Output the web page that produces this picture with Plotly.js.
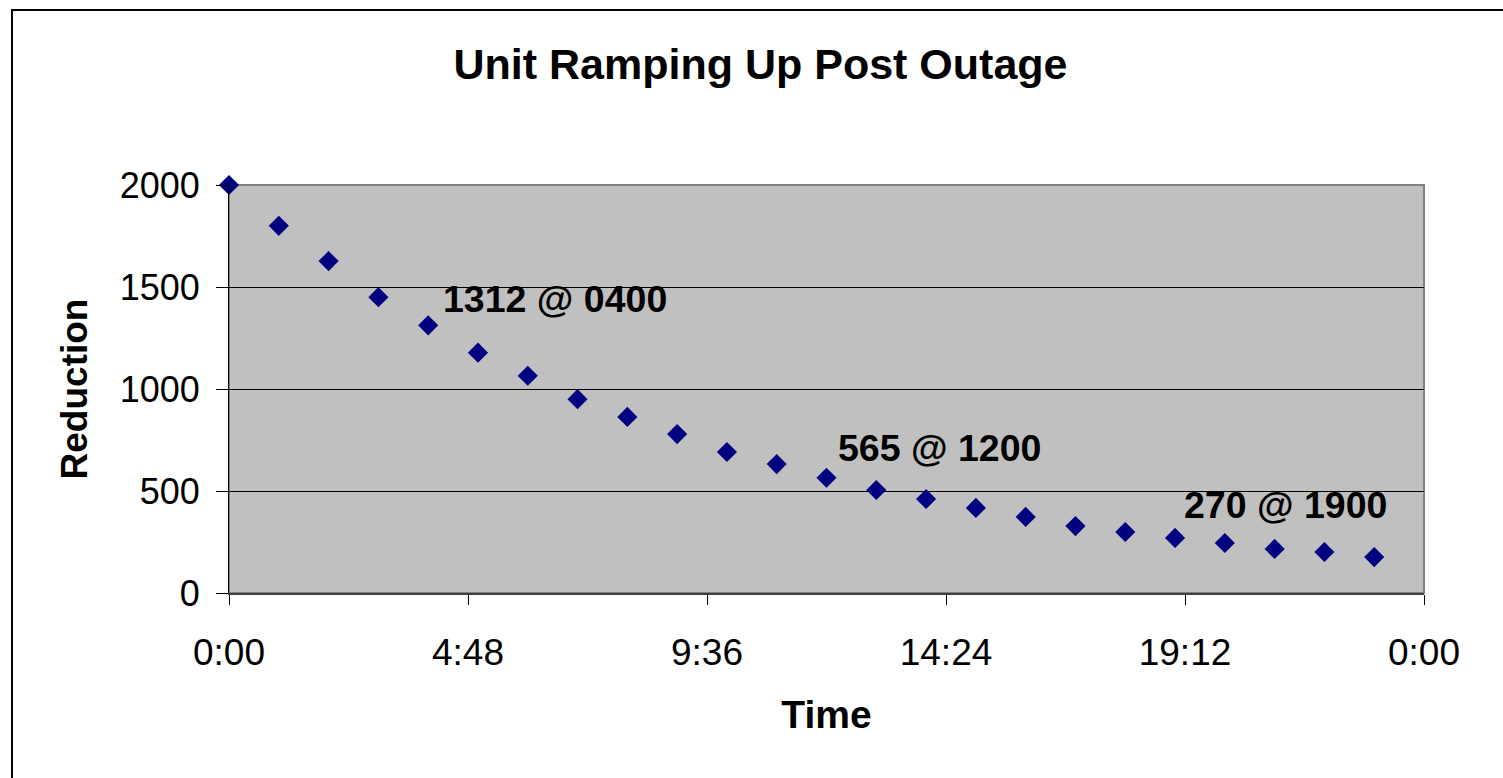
<!DOCTYPE html>
<html>
<head>
<meta charset="utf-8">
<script src="https://cdn.plot.ly/plotly-3.0.1.min.js"></script>
<style>html,body{margin:0;padding:0;background:#fff;}#chart{width:1503px;height:778px;}</style>
</head>
<body>
<div id="chart"></div>
<script>
// Hours after outage
const hours = [0,1,2,3,4,5,6,7,8,9,10,11,12,13,14,15,16,17,18,19,20,21,22,23];
// Reduction values
const reduction = [2000,1800,1627,1450,1312,1178,1065,950,863,779,691,632,565,505,461,417,373,328,299,270,245,216,201,176];
// Axis ticks (hours) and their labels
const tickVals = [0,4.8,9.6,14.4,19.2,24];
const tickText = ['0:00','4:48','9:36','14:24','19:12','0:00'];
const yTicks = [0,500,1000,1500,2000];
// Callout labels and their anchor points (hours, reduction)
const calloutText = ['1312 @ 0400','565 @ 1200','270 @ 1900'];
const calloutX = [4.26, 12.19, 19.14];
const calloutY = [1441, 711, 431];

const FONT = 'Arial, "Liberation Sans", sans-serif';

const trace = {
  x: hours, y: reduction, type: 'scatter', mode: 'markers',
  marker: {symbol: 'diamond', size: 15.5, color: '#000080', line: {width: 0}},
  cliponaxis: false, hoverinfo: 'x+y'
};

const annotations = calloutText.map((t, i) => ({
  x: calloutX[i], y: calloutY[i], xref: 'x', yref: 'y',
  text: '<b>' + t + '</b>', showarrow: false,
  xanchor: 'left', yanchor: 'middle',
  font: {family: FONT, size: 37.5, color: '#000'}
}));

const layout = {
  width: 1503, height: 778,
  margin: {l: 229, r: 79, t: 185, b: 185, pad: 0},
  paper_bgcolor: '#ffffff', plot_bgcolor: '#c0c0c0',
  showlegend: false,
  title: {text: '<b>Unit Ramping Up Post Outage</b>', x: 0.506, xref: 'container', xanchor: 'center',
          y: 0.918, yref: 'container', yanchor: 'middle',
          font: {family: FONT, size: 43, color: '#000'}},
  xaxis: {
    range: [0, 24], tickmode: 'array', tickvals: tickVals, ticktext: tickText,
    showgrid: false, zeroline: false,
    showline: true, linecolor: '#404040', linewidth: 2,
    ticks: 'outside', ticklen: 10, tickcolor: '#000', tickwidth: 1,
    ticklabelstandoff: 16,
    tickfont: {family: FONT, size: 37, color: '#000'},
    title: {text: '<b>Time</b>', standoff: 28, font: {family: FONT, size: 39, color: '#000'}}
  },
  yaxis: {
    range: [0, 2000], tickmode: 'array', tickvals: yTicks,
    showgrid: true, gridcolor: '#000', gridwidth: 1, zeroline: false,
    showline: true, linecolor: '#000', linewidth: 1,
    ticks: 'outside', ticklen: 12, tickcolor: '#000', tickwidth: 1,
    ticklabelstandoff: 9,
    tickfont: {family: FONT, size: 36, color: '#000'},
    title: {text: '<b>Reduction</b>', standoff: 20, font: {family: FONT, size: 37, color: '#000'}}
  },
  annotations: annotations,
  shapes: [
    {type: 'rect', xref: 'paper', yref: 'paper', x0: 0, x1: 1, y0: 0, y1: 1,
     line: {color: '#808080', width: 2}, fillcolor: 'rgba(0,0,0,0)', layer: 'below'},
    {type: 'rect', xref: 'paper', yref: 'paper', x0: -0.1816, x1: 1.08, y0: -0.5, y1: 1.4289,
     line: {color: '#000', width: 2}, fillcolor: 'rgba(0,0,0,0)', layer: 'below'}
  ]
};

Plotly.newPlot('chart', [trace], layout, {displayModeBar: false, staticPlot: true});
</script>
</body>
</html>
